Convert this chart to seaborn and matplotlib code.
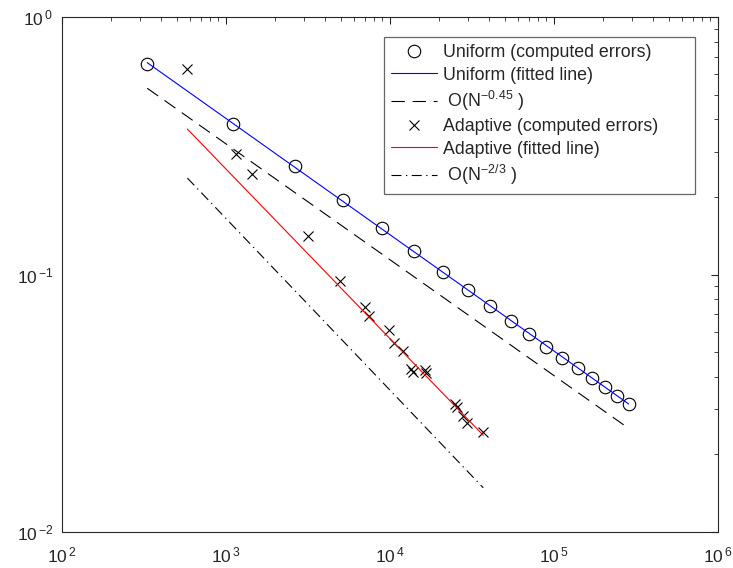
import numpy as np
import pandas as pd
import matplotlib
matplotlib.use('Agg')
import matplotlib.pyplot as plt
import matplotlib.ticker as mticker
import seaborn as sns

# valori (N = numar de grade de libertate, err = eroare)
uniform_N = [331, 1111, 2624, 5160, 8935, 14030, 21090, 30000, 40900, 54950,
             70800, 89950, 112700, 139300, 169400, 203700, 241200, 285600]
uniform_err = [0.656, 0.384, 0.263, 0.194, 0.152, 0.123, 0.102, 0.0867, 0.0757,
               0.0662, 0.0589, 0.0525, 0.0475, 0.0435, 0.0397, 0.0366, 0.0338, 0.0315]

adaptive_N = [581, 1143, 1432, 3150, 4945, 7030, 7440, 9860, 10580, 12020,
              13440, 13830, 16370, 16600, 24990, 25700, 27950, 29580, 37060]
adaptive_err = [0.628, 0.294, 0.246, 0.141, 0.0944, 0.0748, 0.0690, 0.0609, 0.0542,
                0.0504, 0.0430, 0.0418, 0.0426, 0.0414, 0.0314, 0.0306, 0.0282,
                0.0265, 0.0245]

# linii de referinta C * N^rate
ref_uniform_C, ref_uniform_rate = 7.2, -0.45
ref_adaptive_C, ref_adaptive_rate = 16.5, -2 / 3
adaptive_fit_from = 7  # fit doar pe coada (regim asimptotic)

sns.set_style('white')
plt.rcParams['font.family'] = ['Liberation Sans', 'DejaVu Sans']
plt.rcParams['mathtext.fontset'] = 'custom'
plt.rcParams['mathtext.rm'] = 'Liberation Sans'
plt.rcParams['mathtext.it'] = 'Liberation Sans'
plt.rcParams['axes.unicode_minus'] = False

uN, ue = np.array(uniform_N, float), np.array(uniform_err)
aN, ae = np.array(adaptive_N, float), np.array(adaptive_err)

# fit liniar in log-log
pu = np.polyfit(np.log10(uN), np.log10(ue), 1)
pa = np.polyfit(np.log10(aN[adaptive_fit_from:]), np.log10(ae[adaptive_fit_from:]), 1)

df_u = pd.DataFrame({'N': uN, 'err': ue,
                     'fit': 10 ** np.polyval(pu, np.log10(uN)),
                     'ref': ref_uniform_C * uN ** ref_uniform_rate})
aN_line = np.array([aN.min(), aN.max()])
df_a = pd.DataFrame({'N': aN, 'err': ae})
df_al = pd.DataFrame({'N': aN_line,
                      'fit': 10 ** np.polyval(pa, np.log10(aN_line)),
                      'ref': ref_adaptive_C * aN_line ** ref_adaptive_rate})

fig, ax = plt.subplots(figsize=(7.33, 5.68), dpi=100)
fig.subplots_adjust(left=0.0846, right=0.9795, bottom=0.0634, top=0.970)

sns.lineplot(data=df_u, x='N', y='err', ax=ax, estimator=None, sort=False,
             linestyle='', marker='o', markersize=9, markerfacecolor='none',
             markeredgecolor='k', markeredgewidth=0.8, color='k',
             label='Uniform (computed errors)')
sns.lineplot(data=df_u, x='N', y='fit', ax=ax, estimator=None, color='blue',
             linewidth=0.8, label='Uniform (fitted line)')
sns.lineplot(data=df_u, x='N', y='ref', ax=ax, estimator=None, color='k',
             linewidth=0.8, label=r' O(N$^{-0.45}$ )')
ax.lines[-1].set_dashes([12, 7])
sns.lineplot(data=df_a, x='N', y='err', ax=ax, estimator=None, sort=False,
             linestyle='', marker='x', markersize=7, markeredgecolor='k',
             markeredgewidth=0.8, color='k', label='Adaptive (computed errors)')
sns.lineplot(data=df_al, x='N', y='fit', ax=ax, estimator=None, color='red',
             linewidth=0.8, label='Adaptive (fitted line)')
sns.lineplot(data=df_al, x='N', y='ref', ax=ax, estimator=None, color='k',
             linewidth=0.8, label=r' O(N$^{-2/3}$ )')
ax.lines[-1].set_dashes([9, 4, 1.2, 4])

ax.set(xscale='log', yscale='log', xlim=(1e2, 1e6), ylim=(1e-2, 1e0),
       xlabel='', ylabel='')
fmt = mticker.FuncFormatter(lambda v, p: r'10$\,{}^{%d}$' % round(np.log10(v)))
ax.xaxis.set_major_formatter(fmt)
ax.yaxis.set_major_formatter(fmt)
ax.xaxis.set_minor_formatter(mticker.NullFormatter())
ax.yaxis.set_minor_formatter(mticker.NullFormatter())
ax.tick_params(which='both', direction='in', top=True, right=True,
               labelsize=12.5, color='0.15')
ax.tick_params(which='major', length=5)
ax.tick_params(which='minor', length=3)
ax.tick_params(axis='x', which='major', pad=10)
ax.tick_params(axis='y', which='major', pad=6)
for s in ax.spines.values():
    s.set_color('0.15')
    s.set_linewidth(0.8)

leg = ax.legend(loc='upper left', bbox_to_anchor=(0.491, 0.5, 0.474, 0.461),
                mode='expand', borderaxespad=0, fontsize=12.8, frameon=True,
                fancybox=False, framealpha=1, edgecolor='0.4',
                handlelength=2.6, handletextpad=0.3, labelspacing=0.3)
leg.get_frame().set_linewidth(0.9)

plt.savefig('out.png', dpi=100)
